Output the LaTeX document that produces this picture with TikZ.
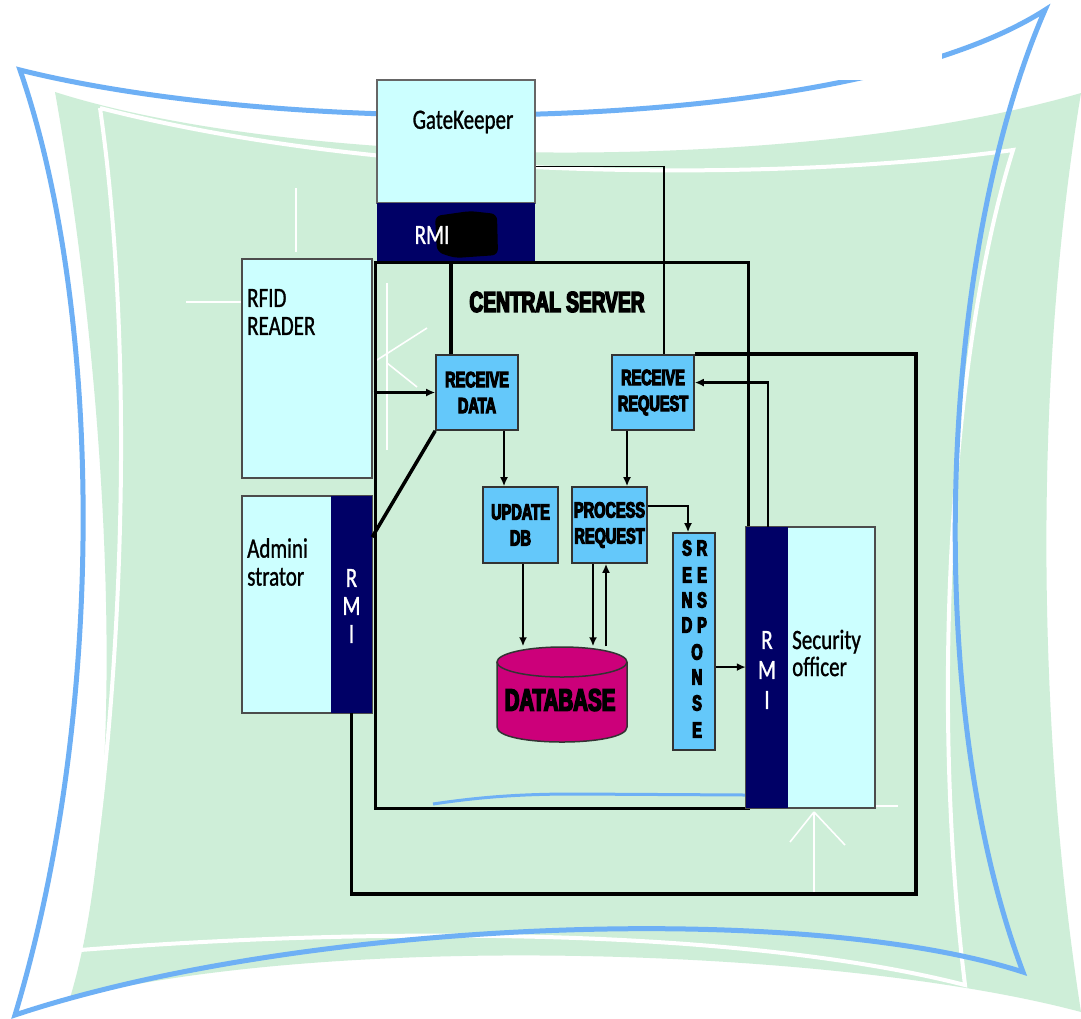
\documentclass[tikz,border=0pt]{standalone}
\usepackage{fontspec}
\newfontfamily\carlito[FakeStretch=0.75, FakeBold=1]{Carlito}
\newfontfamily\blockfont[FakeStretch=0.66, BoldFeatures={FakeBold=5}]{Liberation Sans}
\usetikzlibrary{calc, arrows.meta, shapes.geometric}

\definecolor{bggreen}{RGB}{206,238,216}
\definecolor{frameblue}{RGB}{110,176,245}
\definecolor{paleCyan}{RGB}{204,255,255}
\definecolor{rminavy}{RGB}{0,0,102}
\definecolor{procblue}{RGB}{100,200,250}
\definecolor{dbmagenta}{RGB}{204,0,122}

\begin{document}
\begin{tikzpicture}[x=1pt, y=-1pt, >={Latex[length=9pt,width=8pt]},
  box/.style={draw=black!70, line width=1.2pt, fill=paleCyan, inner sep=0pt},
  rmibar/.style={fill=rminavy, inner sep=0pt},
  proc/.style={draw=black!80, line width=1.6pt, fill=procblue, inner sep=0pt, align=center,
    font=\blockfont\bfseries\fontsize{22}{26}\selectfont},
  srlet/.style={inner sep=0pt, font=\blockfont\bfseries\fontsize{22}{22}\selectfont},
  lbl/.style={inner sep=0pt, align=left, font=\carlito\fontsize{28}{28}\selectfont},
  rmilbl/.style={inner sep=0pt, align=center, text=white, font=\carlito\fontsize{28}{28}\selectfont},
  conn/.style={line width=2.2pt},
  thickconn/.style={line width=3.5pt},
  thinconn/.style={line width=1.3pt},
  sparkle/.style={white, line width=1.6pt}]
  \useasboundingbox (0,0) rectangle (1081,1018);

  % --- background ---
  \fill[white] (0,0) rectangle (1081,1018);
  \fill[bggreen] (55,92) .. controls (300,170) and (800,175) .. (1081,93)
    .. controls (1030,400) and (1040,750) .. (1081,1012)
    .. controls (850,950) and (350,930) .. (70,998)
    .. controls (130,800) and (110,400) .. (55,92) -- cycle;
  \draw[white, line width=4pt] (100,108) .. controls (400,185) and (800,180) .. (1013,150)
    .. controls (950,350) and (930,700) .. (965,985)
    .. controls (750,930) and (400,925) .. (80,950)
    .. controls (125,700) and (135,350) .. (100,108);
  \draw[frameblue, line width=5pt] (20,70) .. controls (300,140) and (850,135) .. (1045,10)
    .. controls (940,250) and (920,700) .. (1023,972)
    .. controls (800,900) and (300,920) .. (15,1015)
    .. controls (110,700) and (100,300) .. (20,70) -- cycle;
  \fill[white] (535,0) rectangle (942,80);

  % sparkles
  \draw[sparkle] (296,188) -- (296,252);
  \draw[sparkle] (186,302) -- (241,302);
  \draw[sparkle] (387,283) -- (387,450);
  \draw[sparkle] (377,360) -- (427,328);
  \draw[sparkle] (387,363) -- (417,387);
  \draw[sparkle] (814,812) -- (814,893);
  \draw[sparkle] (814,812) -- (790,842);
  \draw[sparkle] (814,812) -- (845,845);
  \draw[sparkle] (876,806) -- (898,806);

  % --- CENTRAL SERVER ---
  \node[draw=black, line width=3pt, minimum width=373, minimum height=546, inner sep=0pt] (srv) at (561.5,535) {};
  \draw[frameblue, line width=3pt] (433,804) .. controls (480,797) and (520,794) .. (575,794) -- (745,795);
  \node[inner sep=0pt, font=\blockfont\bfseries\fontsize{29}{30}\selectfont] (srvlbl) at (557,302) {CENTRAL SERVER};

  % --- GateKeeper ---
  \node[box, draw=black!60, minimum width=158, minimum height=123] (gk) at (456,141.5) {};
  \node[lbl] (gklbl) at (463,122) {GateKeeper};
  \node[rmibar, minimum width=158, minimum height=58] (gkrmi) at (456,232) {};
  \fill[black, rounded corners=6pt] (435,216) -- (470,211) -- (497,214) -- (498,255) -- (455,258) -- (437,252) -- cycle;
  \node[rmilbl] (gkrmilbl) at (432,235) {RMI};

  % --- RFID READER ---
  \node[box, minimum width=130, minimum height=219] (rfid) at (307,368.5) {};
  \node[lbl, anchor=west] (rfidlbl) at (247,312) {RFID\\READER};

  % --- Administrator ---
  \node[box, minimum width=130, minimum height=217] (admin) at (307,604.5) {};
  \node[rmibar, minimum width=41, minimum height=217] (adrmi) at (351.5,604.5) {};
  \node[lbl, anchor=west] (adminlbl) at (247,562) {Admini\\strator};
  \node[rmilbl] (adrmilbl) at (351.5,606) {R\\M\\I};

  % --- Security officer ---
  \node[box, minimum width=129, minimum height=281] (so) at (810.5,667.5) {};
  \node[rmibar, minimum width=42, minimum height=281] (sormi) at (767,667.5) {};
  \node[lbl, anchor=west, font=\carlito\fontsize{28}{27}\selectfont] (solbl) at (792,653) {Security\\officer};
  \node[rmilbl, font=\carlito\fontsize{28}{30}\selectfont] (sormilbl) at (767,670) {R\\M\\I};

  % --- server blocks ---
  \node[proc, minimum width=82, minimum height=75] (rd) at (477,392.5) {RECEIVE\\DATA};
  \node[proc, minimum width=82, minimum height=75] (rr) at (653,392.5) {RECEIVE\\REQUEST};
  \node[proc, minimum width=75, minimum height=76] (ud) at (520.5,525) {UPDATE\\DB};
  \node[proc, minimum width=75, minimum height=76] (pr) at (609.5,525) {PROCESS\\REQUEST};
  \node[proc, minimum width=42, minimum height=217] (sr) at (694,641.5) {};
  \foreach \a/\b/\yy [count=\i] in {S/R/548, E/E/575, N/S/600, D/P/625} {
    \node[srlet] (srl\i) at (687,\yy) {\a};
    \node[srlet] (srr\i) at (702,\yy) {\b};
  }
  \foreach \c/\yy [count=\i] in {O/652, N/677, S/703, E/730} {
    \node[srlet] (src\i) at (697,\yy) {\c};
  }

  % --- DATABASE ---
  \fill[dbmagenta] (497,662) -- (497,727) .. controls (497,747) and (627,747) .. (627,727) -- (627,662) -- cycle;
  \draw[black!80, line width=1.5pt] (497,662) -- (497,727) .. controls (497,747) and (627,747) .. (627,727) -- (627,662);
  \node[ellipse, draw=black!80, line width=1.5pt, fill=dbmagenta, minimum width=130, minimum height=30, inner sep=0pt] (dbcap) at (562,662) {};
  \node[inner sep=0pt, font=\blockfont\bfseries\fontsize{31}{32}\selectfont] (dblbl) at (560,700) {DATABASE};

  % --- connectors ---
  % gatekeeper -> receive request
  \draw[thinconn] ($(gk.north east)!.7!(gk.south east)$) -| ($(rr.north)+(11,0)$);
  % gatekeeper rmi -> receive data
  \coordinate (rdin) at ($(rd.north west)+(16,0)$);
  \draw[thickconn] (gkrmi.south -| rdin) -- (rdin);
  % rfid reader -> receive data
  \draw[conn,->] (rd.west -| srv.west) -- (rd.west);
  % receive data -- administrator rmi
  \draw[thickconn] (rd.south west) -- ($(adrmi.north east)!.19!(adrmi.south east)$);
  % receive data -> update db
  \coordinate (rdout) at ($(rd.south)+(27,0)$);
  \draw[conn,->] (rdout) -- (rdout |- ud.north);
  % receive request -> process request
  \coordinate (rrout) at ($(rr.south)+(-26,0)$);
  \draw[conn,->] (rrout) -- (rrout |- pr.north);
  % process request -> send response
  \draw[conn,->] ($(pr.north east)!.26!(pr.south east)$) -| ($(sr.north)+(-6,0)$);
  % update db / process request <-> database
  \coordinate (udout) at ($(ud.south)+(2.5,0)$);
  \draw[conn,->] (udout) -- (udout |- dbcap.north);
  \coordinate (prout) at ($(pr.south)+(-16.5,0)$);
  \draw[conn,->] (prout) -- (prout |- dbcap.north);
  \coordinate (prin) at ($(pr.south)+(-3.5,0)$);
  \draw[conn,->] (prin |- dbcap.north) -- (prin);
  % send response -> security rmi
  \coordinate (srout) at ($(sr.north east)!.617!(sr.south east)$);
  \draw[conn,->] (srout) -- (srout -| sormi.west);
  % security officer -> receive request
  \coordinate (rrin) at ($(rr.north east)!.37!(rr.south east)$);
  \draw[conn,->] ($(sormi.north)+(1,0)$) |- (rrin);
  % outer loop
  \coordinate (loopse) at (916,894);
  \draw[thickconn] (rr.north east) -| (loopse) -| (adrmi.south);
\end{tikzpicture}
\end{document}
